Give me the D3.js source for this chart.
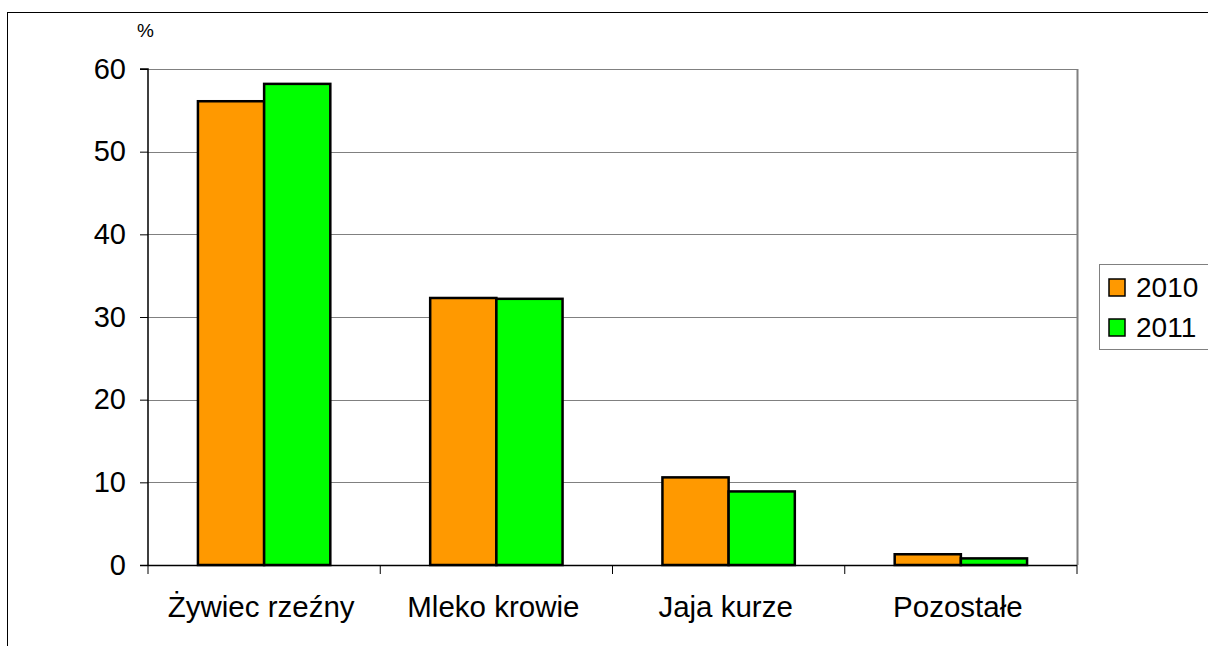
<!DOCTYPE html>
<html><head><meta charset="utf-8">
<script src="https://cdn.jsdelivr.net/npm/d3@7"></script>
<style>body{margin:0;background:#fff}svg{display:block;font-family:Arial,"Liberation Sans",sans-serif}</style>
</head><body>
<svg id="c" width="1208" height="646"></svg>
<script>
const categories = ["Żywiec rzeźny", "Mleko krowie", "Jaja kurze", "Pozostałe"];
const series = ["2010", "2011"];
const values2010 = [56.1, 32.3, 10.6, 1.3];
const values2011 = [58.2, 32.2, 8.9, 0.8];
const yTicks = [0, 10, 20, 30, 40, 50, 60];
const colors = ["#FF9900", "#00FF00"];

const svg = d3.select("#c");
const L = 148, R = 1077, T = 69, B = 565;

svg.append("rect").attr("x", 7.5).attr("y", 12.5).attr("width", 1400).attr("height", 1000)
  .attr("fill", "none").attr("stroke", "#000").attr("stroke-width", 1);

const x = d3.scaleBand().domain(categories).range([L, R]).paddingInner(0.43).paddingOuter(0.215);
const xs = d3.scaleBand().domain(series).range([0, x.bandwidth()]);
const y = d3.scaleLinear().domain([0, 60]).range([B, T]);

// gridlines
svg.append("g").selectAll("line").data(yTicks.filter(d => d > 0)).join("line")
  .attr("x1", L).attr("x2", R).attr("y1", d => Math.round(y(d)) + 0.5).attr("y2", d => Math.round(y(d)) + 0.5)
  .attr("stroke", "#808080").attr("stroke-width", 1);
// right border
svg.append("line").attr("x1", R + 0.5).attr("x2", R + 0.5).attr("y1", T).attr("y2", B)
  .attr("stroke", "#808080").attr("stroke-width", 2);

// bars
const data = categories.map((c, i) => ({c, v: [values2010[i], values2011[i]]}));
const g = svg.append("g").selectAll("g").data(data).join("g")
  .attr("transform", d => `translate(${x(d.c)},0)`);
g.selectAll("rect").data(d => d.v.map((v, j) => ({s: series[j], v, j}))).join("rect")
  .attr("x", d => xs(d.s)).attr("width", xs.bandwidth())
  .attr("y", d => y(d.v)).attr("height", d => B - y(d.v))
  .attr("fill", d => colors[d.j]).attr("stroke", "#000").attr("stroke-width", 2.5);

// y axis
const ya = svg.append("g").attr("transform", `translate(${L},0)`)
  .call(d3.axisLeft(y).tickValues(yTicks).tickSize(8).tickPadding(14));
ya.select(".domain").attr("stroke", "#000").attr("stroke-width", 1.5).attr("d", `M-8,${T}H0V${B}`);
ya.selectAll(".tick line").attr("stroke", "#000").attr("stroke-width", 1);
ya.selectAll(".tick text").attr("font-size", 29).attr("fill", "#000").attr("font-family", "Arial, 'Liberation Sans', sans-serif");

// x axis
const bounds = categories.map(c => x(c) - x.step() * x.paddingInner() / 2).concat([R]);
svg.append("line").attr("x1", L - 8).attr("x2", R).attr("y1", B + 0.5).attr("y2", B + 0.5)
  .attr("stroke", "#000").attr("stroke-width", 1.5);
svg.append("g").selectAll("line").data(bounds).join("line")
  .attr("x1", d => d).attr("x2", d => d).attr("y1", B).attr("y2", B + 9)
  .attr("stroke", "#000").attr("stroke-width", 1);
svg.append("g").selectAll("text").data(categories).join("text")
  .attr("x", d => x(d) + x.bandwidth() / 2 - 3).attr("y", 617)
  .attr("text-anchor", "middle").attr("font-size", 29.5).attr("fill", "#000").text(d => d);

// unit label
svg.append("text").attr("x", 137).attr("y", 37).attr("font-size", 19).text("%");

// legend
const lg = svg.append("g");
lg.append("rect").attr("x", 1099.5).attr("y", 264.5).attr("width", 200).attr("height", 85)
  .attr("fill", "#fff").attr("stroke", "#808080").attr("stroke-width", 1);
const li = lg.selectAll("g").data(series).join("g").attr("transform", (d, i) => `translate(0,${i * 40})`);
li.append("rect").attr("x", 1109).attr("y", 279).attr("width", 16).attr("height", 17)
  .attr("fill", (d, i) => colors[i]).attr("stroke", "#000").attr("stroke-width", 1.5);
li.append("text").attr("x", 1136).attr("y", 297).attr("font-size", 28).text(d => d);
</script>
</body></html>
